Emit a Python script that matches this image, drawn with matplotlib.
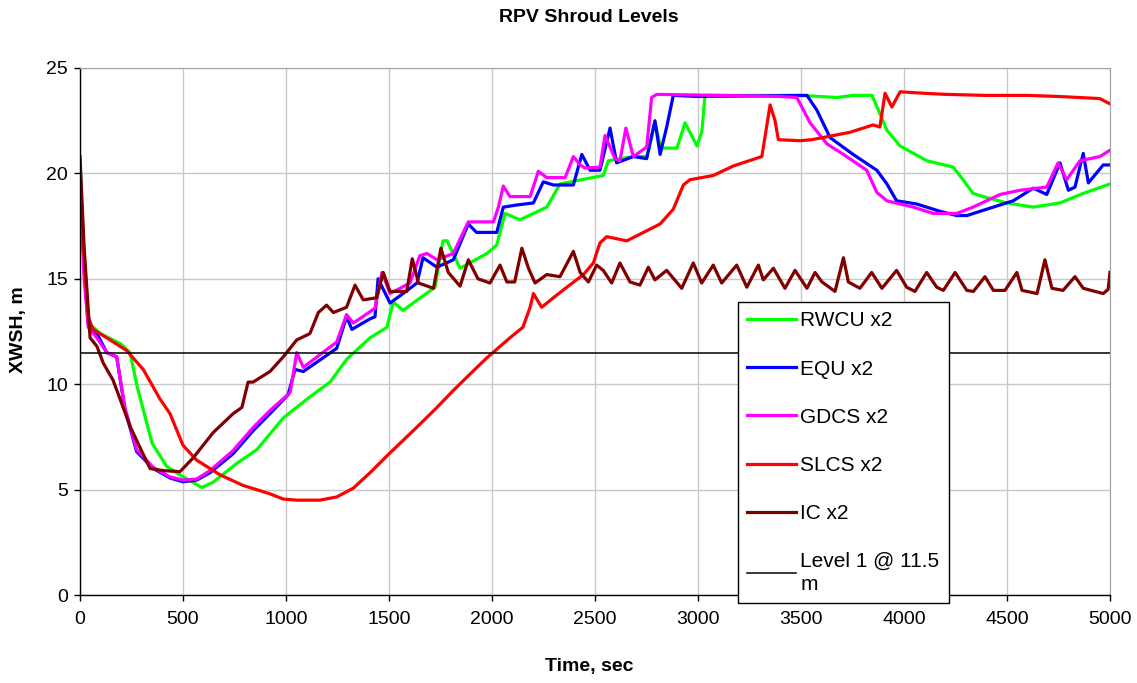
import matplotlib
matplotlib.use("Agg")
import matplotlib.pyplot as plt

plt.rcParams['font.family'] = ['Liberation Sans', 'DejaVu Sans']

title = "RPV Shroud Levels"
xlabel = "Time, sec"
ylabel = "XWSH, m"

rwcu_t = [0, 20, 40, 100, 200, 243, 277, 350, 421, 485, 591, 646, 762, 859, 987, 1116, 1214, 1296,
          1408, 1490, 1520, 1568, 1723, 1762, 1782, 1845, 1975, 2023, 2063, 2136, 2266, 2330, 2540,
          2565, 2686, 2751, 2791, 2820, 2898, 2937, 2995, 3019, 3034, 3300, 3500, 3675, 3750, 3845,
          3917, 3981, 4111, 4238, 4287, 4335, 4385, 4498, 4628, 4757, 4870, 5000]
rwcu_y = [20.5, 15.5, 12.9, 12.4, 11.9, 11.5, 9.9, 7.2, 6.1, 5.7, 5.1, 5.35, 6.25, 6.9, 8.4, 9.4, 10.1, 11.2,
          12.2, 12.7, 13.9, 13.5, 14.6, 16.8, 16.8, 15.5, 16.2, 16.6, 18.1, 17.8, 18.4, 19.5, 19.9,
          20.6, 20.8, 20.8, 22.4, 21.2, 21.2, 22.4, 21.3, 22.0, 23.7, 23.7, 23.7, 23.6, 23.7, 23.7,
          22.05, 21.3, 20.6, 20.3, 19.7, 19.05, 18.9, 18.6, 18.4, 18.6, 19.05, 19.5]

equ_t = [0, 20, 40, 82, 130, 178, 218, 275, 356, 437, 500, 566, 631, 743, 841, 922, 1010, 1044, 1084,
         1165, 1246, 1294, 1320, 1408, 1432, 1447, 1505, 1568, 1636, 1665, 1733, 1812, 1885, 1925,
         2023, 2055, 2120, 2201, 2249, 2298, 2395, 2436, 2476, 2524, 2573, 2605, 2686, 2751, 2791,
         2816, 2848, 2880, 3000, 3529, 3577, 3641, 3753, 3868, 3917, 3964, 4061, 4175, 4256, 4305,
         4385, 4530, 4628, 4693, 4757, 4798, 4830, 4870, 4895, 4967, 5000]
equ_y = [20.0, 15.5, 12.9, 12.4, 11.5, 11.3, 8.8, 6.8, 6.0, 5.55, 5.37, 5.45, 5.8, 6.7, 7.8, 8.6, 9.5, 10.7, 10.6,
         11.15, 11.7, 13.2, 12.6, 13.1, 13.2, 15.0, 13.85, 14.3, 14.8, 16.0, 15.55, 15.9, 17.6, 17.2,
         17.2, 18.4, 18.5, 18.6, 19.6, 19.45, 19.45, 20.9, 20.15, 20.15, 22.15, 20.5, 20.8, 20.7, 22.5,
         20.9, 22.2, 23.7, 23.65, 23.7, 23.0, 21.7, 20.9, 20.15, 19.5, 18.7, 18.55, 18.2, 18.0, 18.0,
         18.25, 18.7, 19.3, 19.0, 20.5, 19.2, 19.35, 20.95, 19.55, 20.4, 20.4]

gdcs_t = [0, 20, 40, 82, 130, 178, 218, 275, 356, 437, 500, 566, 631, 743, 841, 922, 1020, 1052, 1084,
          1165, 1246, 1294, 1327, 1432, 1466, 1505, 1602, 1650, 1684, 1733, 1812, 1885, 2007, 2031,
          2055, 2087, 2185, 2225, 2266, 2355, 2395, 2428, 2452, 2524, 2549, 2573, 2597, 2621, 2650,
          2686, 2751, 2775, 2800, 3400, 3480, 3544, 3626, 3706, 3819, 3868, 3917, 4045, 4142, 4256,
          4335, 4466, 4563, 4693, 4748, 4790, 4854, 4951, 5000]
gdcs_y = [20.0, 15.0, 12.7, 12.2, 11.5, 11.3, 8.9, 6.9, 6.05, 5.6, 5.45, 5.5, 5.9, 6.85, 7.95, 8.75, 9.6, 11.5, 10.8,
          11.4, 12.0, 13.3, 12.9, 13.6, 15.3, 14.3, 14.8, 16.1, 16.2, 15.9, 16.2, 17.7, 17.7, 18.4,
          19.4, 18.9, 18.9, 20.1, 19.8, 19.8, 20.8, 20.4, 20.25, 20.3, 21.8, 21.25, 20.7, 20.6, 22.15,
          20.8, 21.25, 23.6, 23.75, 23.65, 23.6, 22.4, 21.4, 20.9, 20.15, 19.1, 18.7, 18.4, 18.1, 18.1,
          18.4, 19.0, 19.2, 19.35, 20.5, 19.7, 20.6, 20.8, 21.1]

slcs_t = [0, 20, 40, 63, 130, 226, 307, 388, 437, 500, 566, 680, 791, 922, 987, 1052, 1165, 1246, 1327,
          1408, 1490, 1570, 1650, 1733, 1812, 1885, 1975, 2087, 2150, 2185, 2201, 2241, 2298, 2363,
          2444, 2492, 2524, 2557, 2654, 2735, 2816, 2880, 2929, 2961, 3074, 3171, 3310, 3350, 3374,
          3390, 3495, 3553, 3738, 3850, 3883, 3908, 3941, 3981, 4100, 4200, 4400, 4600, 4750, 4850,
          4950, 5000]
slcs_y = [20.0, 16.0, 13.2, 12.6, 12.2, 11.6, 10.7, 9.3, 8.6, 7.1, 6.4, 5.7, 5.2, 4.8, 4.55, 4.5, 4.5, 4.65, 5.07,
          5.8, 6.6, 7.35, 8.1, 8.9, 9.7, 10.4, 11.25, 12.2, 12.7, 13.65, 14.3, 13.65, 14.1, 14.6,
          15.2, 15.75, 16.7, 17.0, 16.8, 17.2, 17.6, 18.3, 19.45, 19.7, 19.9, 20.35, 20.8, 23.25, 22.5,
          21.6, 21.55, 21.6, 21.95, 22.3, 22.2, 23.8, 23.15, 23.87, 23.8, 23.75, 23.7, 23.7, 23.65, 23.6,
          23.55, 23.3]

ic_t = [0, 20, 49, 82, 113, 160, 202, 243, 291, 340, 405, 485, 549, 646, 743, 786, 816, 840, 922, 987,
        1052, 1116, 1157, 1197, 1230, 1294, 1335, 1375, 1440, 1472, 1505, 1586, 1613, 1643, 1716, 1752,
        1788, 1845, 1885, 1932, 1990, 2039, 2072, 2110, 2145, 2177, 2209, 2266, 2330, 2395, 2428, 2468,
        2508, 2540, 2581, 2621, 2670, 2718, 2759, 2791, 2848, 2921, 2977, 3018, 3074, 3115, 3188, 3237,
        3293, 3317, 3366, 3422, 3471, 3529, 3568, 3602, 3665, 3706, 3730, 3786, 3843, 3893, 3964, 4013,
        4053, 4110, 4159, 4191, 4248, 4305, 4337, 4393, 4434, 4490, 4548, 4573, 4646, 4684, 4718, 4772,
        4830, 4870, 4967, 4991, 5000]
ic_y = [20.8, 16.5, 12.2, 11.8, 11.0, 10.2, 9.1, 8.0, 7.0, 6.0, 5.9, 5.85, 6.5, 7.7, 8.6, 8.9, 10.1, 10.1, 10.6, 11.3,
        12.1, 12.4, 13.4, 13.75, 13.4, 13.65, 14.7, 14.0, 14.1, 15.3, 14.4, 14.4, 15.95, 14.8, 14.55, 16.45,
        15.3, 14.65, 15.9, 15.0, 14.8, 15.65, 14.85, 14.85, 16.45, 15.5, 14.8, 15.2, 15.1, 16.3, 15.3, 14.85,
        15.65, 15.4, 14.8, 15.75, 14.85, 14.7, 15.55, 14.95, 15.4, 14.55, 15.75, 14.8, 15.65, 14.8, 15.65, 14.6,
        15.65, 14.95, 15.5, 14.55, 15.4, 14.55, 15.3, 14.85, 14.4, 16.0, 14.85, 14.55, 15.3, 14.55, 15.4, 14.6,
        14.4, 15.3, 14.6, 14.45, 15.3, 14.45, 14.4, 15.1, 14.45, 14.45, 15.3, 14.45, 14.3, 15.9, 14.55, 14.45,
        15.1, 14.55, 14.3, 14.5, 15.3]

level1 = 11.5
x_ticks = [0, 500, 1000, 1500, 2000, 2500, 3000, 3500, 4000, 4500, 5000]
y_ticks = [0, 5, 10, 15, 20, 25]

series = [
    ("RWCU x2", rwcu_t, rwcu_y, "#00FF00"),
    ("EQU x2", equ_t, equ_y, "#0000FF"),
    ("GDCS x2", gdcs_t, gdcs_y, "#FF00FF"),
    ("SLCS x2", slcs_t, slcs_y, "#FF0000"),
    ("IC x2", ic_t, ic_y, "#800000"),
]

W, H = 1137, 683
fig = plt.figure(figsize=(W / 100, H / 100), dpi=100)
ax = fig.add_axes([80 / W, 1 - 595 / H, 1030 / W, 527 / H])

for name, t, y, c in series:
    ax.plot(t, y, color=c, lw=2.3, label=name, solid_joinstyle='round')
ax.axhline(level1, color='black', lw=1.1, label="Level 1 @ 11.5\nm")

ax.set_xlim(0, 5000)
ax.set_ylim(0, 25)
ax.set_xticks(x_ticks)
ax.set_yticks(y_ticks)
ax.grid(True, color='#c8c8c8', lw=1.0)
ax.set_axisbelow(True)
for s in ['top', 'right']:
    ax.spines[s].set_color('#a0a0a0')
for s in ['left', 'bottom']:
    ax.spines[s].set_color('black')
    ax.spines[s].set_linewidth(1.0)
ax.tick_params(axis='both', labelsize=14, length=4.5, width=1, color='black', direction='out')
ax.tick_params(axis='x', pad=7)
ax.tick_params(axis='y', pad=4)

fig.text(589 / W, 1 - 17 / H, title, ha='center', va='center', fontsize=14, fontweight='bold')
fig.text(589 / W, 1 - 667 / H, xlabel, ha='center', va='center', fontsize=14, fontweight='bold')
fig.text(18 / W, 1 - 330 / H, ylabel, ha='center', va='center', rotation=90, fontsize=14, fontweight='bold')

leg = fig.legend(loc='upper left', bbox_to_anchor=(738 / W, 1 - 302 / H), fontsize=15,
                 frameon=True, fancybox=False, shadow=False, borderaxespad=0,
                 handlelength=2.35, handletextpad=0.2, labelspacing=1.4, borderpad=0.45)
leg.get_frame().set_edgecolor('black')
leg.get_frame().set_linewidth(1.0)
leg.get_frame().set_alpha(1)
for txt in leg.get_texts():
    if "\n" in txt.get_text():
        txt.set_linespacing(1.25)

fig.savefig("out.png", dpi=100)
